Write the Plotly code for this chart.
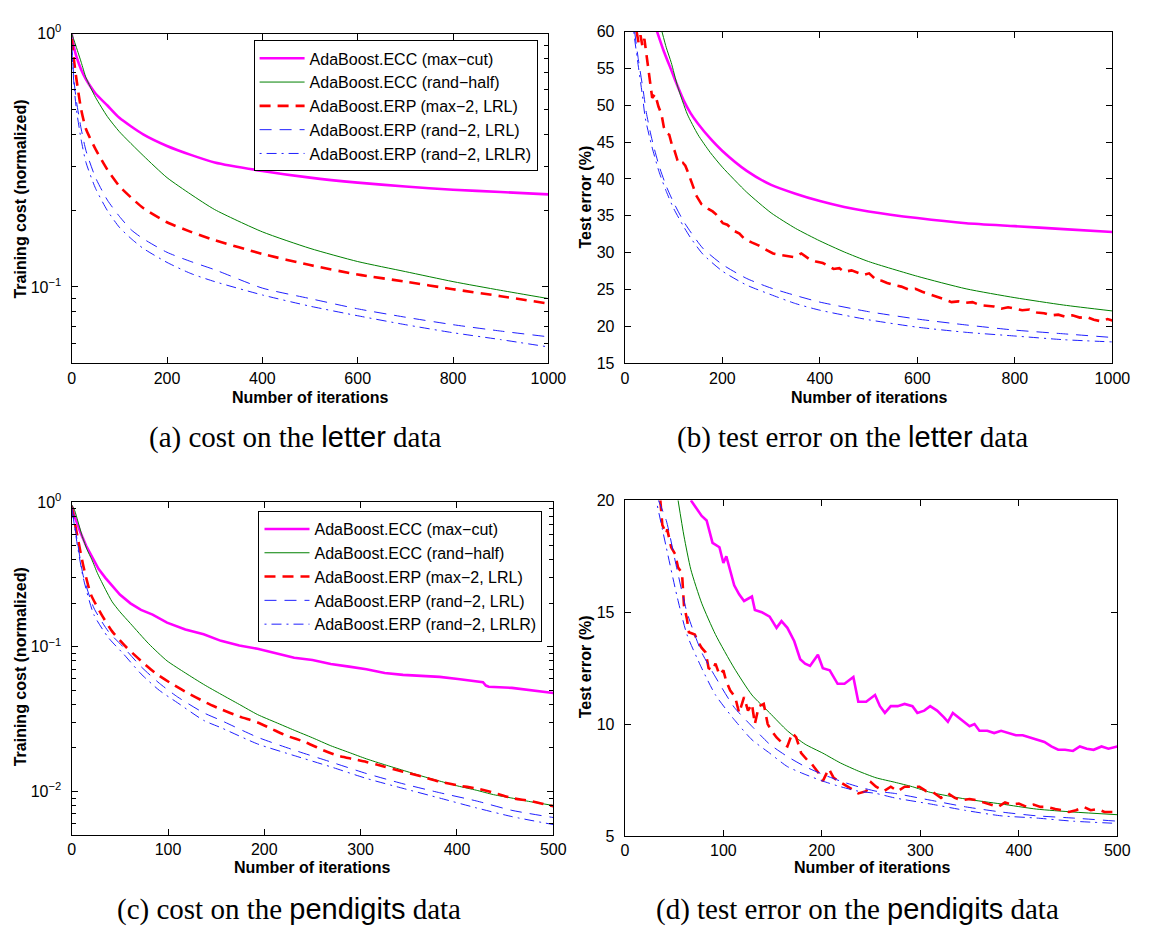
"""
AdaBoost.ECC vs AdaBoost.ERP: training cost and test error on letter / pendigits
"""
import plotly.graph_objects as go

# ---- (a) training cost, letter ----
a_maxcut_x = [0, 5, 10, 20, 30, 50, 75, 100, 150, 200, 250, 300, 400, 500, 600, 700, 800, 900, 1000]
a_maxcut_y = [1.0, 0.88, 0.81, 0.72, 0.66, 0.58, 0.52, 0.465, 0.40, 0.36, 0.332, 0.31, 0.287, 0.27,
              0.258, 0.249, 0.242, 0.237, 0.232]
a_randhalf_x = [0, 10, 20, 30, 50, 75, 100, 150, 200, 250, 300, 400, 500, 600, 700, 800, 900, 1000]
a_randhalf_y = [1.0, 0.88, 0.77, 0.67, 0.56, 0.47, 0.41, 0.33, 0.27, 0.232, 0.202, 0.165, 0.142, 0.126,
                0.115, 0.105, 0.097, 0.090]
a_erp_x = [0, 5, 10, 20, 30, 50, 75, 100, 125, 150, 200, 250, 300, 400, 500, 600, 700, 800, 900, 1000]
a_max2_y = [0.95, 0.78, 0.66, 0.5, 0.42, 0.35, 0.29, 0.25, 0.225, 0.205, 0.18, 0.165, 0.153, 0.135,
            0.122, 0.112, 0.105, 0.098, 0.092, 0.086]
a_rand2_y = [0.92, 0.65, 0.54, 0.42, 0.345, 0.27, 0.22, 0.19, 0.168, 0.155, 0.137, 0.126, 0.117, 0.099,
             0.09, 0.082, 0.076, 0.071, 0.067, 0.0636]
a_lrlr_y = [0.9, 0.62, 0.5, 0.38, 0.31, 0.245, 0.2, 0.172, 0.155, 0.142, 0.125, 0.113, 0.105, 0.093,
            0.084, 0.077, 0.071, 0.066, 0.062, 0.058]

# ---- (b) test error, letter ----
b_maxcut_x = [66, 80, 95, 108, 121, 135, 150, 175, 200, 250, 300, 350, 400, 450, 500, 600, 700, 800, 900, 1000]
b_maxcut_y = [60, 57.3, 54.8, 52.6, 50.6, 48.9, 47.5, 45.5, 43.8, 41.1, 39.2, 38.0, 37.0, 36.2, 35.6,
              34.7, 34.0, 33.6, 33.2, 32.8]
b_randhalf_x = [76, 85, 95, 108, 128, 150, 175, 200, 250, 300, 350, 400, 450, 500, 600, 700, 800, 900, 1000]
b_randhalf_y = [60, 57.8, 55.8, 52.6, 48.8, 46.0, 43.6, 41.6, 38.2, 35.4, 33.3, 31.6, 30.1, 28.8, 26.8,
                25.1, 23.9, 22.9, 22.1]
b_max2_x = [24, 28, 32, 36, 40, 44, 48, 52, 56, 62, 69, 75, 80, 86, 91, 97, 102, 108, 113, 119, 124, 130,
            135, 141, 146, 152, 157, 165, 172, 180, 187, 195, 201, 210, 223, 235, 245, 260, 274, 290, 304,
            318, 333, 348, 362, 377, 392, 406, 418, 428, 440, 450, 465, 479, 490, 501, 510, 516, 527, 538,
            553, 567, 582, 596, 610, 625, 640, 655, 670, 684, 700, 713, 728, 743, 757, 772, 786, 801, 815,
            830, 845, 860, 874, 889, 904, 918, 933, 947, 962, 977, 990, 1000]
b_max2_y = [60, 58.5, 59.5, 58.0, 59.0, 57.0, 54.5, 52.5, 51.0, 51.5, 49.8, 48.8, 47.0, 46.2, 46.0, 44.5,
            43.8, 42.5, 42.0, 42.2, 41.8, 40.8, 40.0, 38.8, 37.8, 37.2, 36.6, 36.3, 35.9, 35.6, 35.2, 34.5,
            34.0, 33.8, 33.0, 32.6, 31.9, 31.4, 31.0, 30.4, 29.9, 29.7, 29.5, 29.4, 29.9, 29.2, 28.8, 28.6,
            28.2, 27.8, 27.9, 27.4, 27.6, 27.3, 27.0, 27.2, 26.6, 26.3, 26.2, 25.9, 25.6, 25.4, 25.0, 25.1,
            24.7, 24.4, 24.0, 23.7, 23.3, 23.4, 23.2, 23.3, 22.9, 22.8, 22.7, 22.4, 22.6, 22.4, 22.2, 22.3,
            21.9, 21.8, 21.5, 21.6, 21.3, 21.5, 21.2, 21.3, 20.9, 20.7, 21.0, 20.8]
b_rand2_x = [20, 27, 38, 44, 55, 70, 85, 100, 120, 135, 160, 200, 250, 300, 350, 400, 500, 600, 700, 800, 900, 1000]
b_rand2_y = [60, 56.5, 51.8, 49.0, 45.5, 41.8, 39.0, 36.8, 34.3, 32.8, 30.6, 28.4, 26.5, 25.2, 24.2, 23.3,
             22.0, 21.0, 20.2, 19.5, 19.0, 18.5]
b_lrlr_x = [18, 25, 36, 42, 55, 70, 85, 100, 120, 135, 160, 200, 250, 300, 350, 400, 500, 600, 700, 800, 900, 1000]
b_lrlr_y = [60, 56.5, 51.3, 48.2, 44.5, 41.0, 38.3, 36.0, 33.6, 32.0, 29.8, 27.5, 25.6, 24.3, 23.1, 22.2,
            20.9, 19.9, 19.2, 18.7, 18.2, 17.9]

# ---- (c) training cost, pendigits ----
c_maxcut_x = [0, 3, 9, 15, 21, 28, 35, 42, 50, 61, 72, 84, 99, 118, 137, 155, 174, 193, 212, 231, 250, 269,
              288, 306, 325, 344, 363, 382, 401, 416, 427, 430, 433, 457, 476, 500]
c_maxcut_y = [0.95, 0.8, 0.62, 0.5, 0.42, 0.345, 0.3, 0.265, 0.23, 0.20, 0.18, 0.167, 0.147, 0.132, 0.122,
              0.110, 0.102, 0.097, 0.090, 0.084, 0.081, 0.076, 0.073, 0.070, 0.066, 0.064, 0.063, 0.062,
              0.060, 0.058, 0.057, 0.054, 0.053, 0.052, 0.050, 0.048]
c_randhalf_x = [0, 3, 11, 16, 21, 27, 35, 42, 50, 61, 80, 99, 118, 137, 155, 174, 193, 212, 231, 250, 269,
                288, 306, 325, 344, 363, 382, 401, 420, 438, 457, 476, 500]
c_randhalf_y = [0.96, 0.88, 0.58, 0.47, 0.40, 0.32, 0.25, 0.205, 0.175, 0.145, 0.105, 0.08, 0.066, 0.055,
                0.047, 0.040, 0.034, 0.030, 0.0265, 0.0235, 0.0207, 0.0186, 0.0168, 0.0153, 0.014, 0.0128,
                0.0118, 0.0109, 0.0102, 0.0095, 0.009, 0.0085, 0.008]
c_max2_x = [0, 6, 12, 20, 31, 42, 57, 72, 88, 103, 118, 140, 155, 174, 193, 208, 223, 242, 261, 276, 291,
            306, 325, 344, 363, 382, 401, 420, 438, 457, 476, 500]
c_max2_y = [0.93, 0.58, 0.365, 0.23, 0.167, 0.128, 0.099, 0.080, 0.065, 0.056, 0.049, 0.041, 0.037, 0.033,
            0.030, 0.027, 0.0243, 0.022, 0.0193, 0.0177, 0.0168, 0.016, 0.0148, 0.0137, 0.0127, 0.0117,
            0.011, 0.0105, 0.0098, 0.009, 0.0086, 0.0079]
c_rand2_x = [0, 6, 12, 23, 38, 54, 72, 91, 110, 137, 155, 193, 231, 269, 306, 344, 382, 420, 457, 500]
c_rand2_y = [0.93, 0.53, 0.31, 0.186, 0.128, 0.099, 0.073, 0.056, 0.045, 0.035, 0.031, 0.0237, 0.0193,
             0.016, 0.0133, 0.0113, 0.0098, 0.0086, 0.0074, 0.0066]
c_lrlr_y = [0.93, 0.5, 0.3, 0.167, 0.116, 0.089, 0.065, 0.050, 0.041, 0.031, 0.0276, 0.0213, 0.0177,
            0.0148, 0.0123, 0.0105, 0.009, 0.0077, 0.0067, 0.0059]

# ---- (d) test error, pendigits ----
d_maxcut_x = [67, 72, 78, 83, 89, 96, 100, 103, 107, 111, 116, 121, 129, 132, 139, 147, 154, 159, 165, 172,
              178, 183, 188, 196, 201, 208, 216, 223, 232, 237, 245, 254, 259, 264, 270, 277, 284, 292, 297,
              304, 310, 317, 324, 328, 333, 342, 350, 355, 360, 368, 375, 382, 389, 397, 404, 411, 418, 426,
              433, 440, 447, 455, 462, 469, 476, 484, 491, 500]
d_maxcut_y = [20, 19.7, 19.3, 19.1, 18.1, 17.9, 17.2, 17.5, 16.9, 16.2, 15.8, 15.5, 15.7, 15.1, 15.0, 14.8,
              14.3, 14.6, 14.3, 13.7, 12.9, 12.7, 12.6, 13.1, 12.5, 12.4, 11.8, 11.8, 12.1, 11.0, 11.0, 11.3,
              10.8, 10.5, 10.8, 10.8, 10.9, 10.8, 10.5, 10.6, 10.8, 10.6, 10.3, 10.1, 10.5, 10.2, 9.9, 10.0,
              9.7, 9.7, 9.6, 9.7, 9.6, 9.5, 9.5, 9.4, 9.3, 9.2, 9.0, 8.85, 8.85, 8.8, 9.0, 8.9, 8.85, 9.0,
              8.9, 9.0]
d_randhalf_x = [54, 60, 67, 78, 92, 111, 129, 147, 165, 183, 201, 219, 237, 255, 274, 292, 310, 346, 382,
                418, 455, 500]
d_randhalf_y = [20, 18.4, 16.9, 15.4, 14.0, 12.5, 11.3, 10.5, 9.7, 9.1, 8.7, 8.26, 7.9, 7.6, 7.4, 7.2,
                6.95, 6.65, 6.43, 6.2, 6.07, 5.95]
d_max2_x = [36, 38, 42, 43, 47, 51, 54, 58, 60, 63, 65, 71, 74, 78, 82, 85, 89, 92, 96, 100, 103, 107, 112,
            116, 121, 125, 129, 132, 136, 141, 145, 149, 154, 161, 165, 170, 174, 179, 185, 190, 197, 201,
            207, 212, 217, 223, 230, 237, 245, 250, 255, 263, 270, 277, 284, 292, 299, 306, 313, 321, 328,
            335, 342, 350, 357, 364, 371, 379, 386, 393, 400, 408, 415, 422, 429, 437, 444, 451, 458, 466,
            473, 480, 487, 495, 500]
d_max2_y = [20, 18.9, 18.5, 18.7, 17.9, 17.6, 17.0, 16.75, 15.3, 14.7, 14.1, 14.0, 13.7, 13.4, 13.2, 12.5,
            12.4, 12.7, 12.2, 12.4, 11.9, 11.5, 11.2, 10.5, 11.2, 10.6, 10.9, 10.0, 10.8, 10.9, 10.0, 9.7,
            9.4, 9.1, 9.0, 9.6, 9.4, 8.7, 8.4, 8.2, 7.8, 7.45, 8.0, 7.6, 7.45, 7.3, 7.1, 6.9, 7.0, 7.4, 7.2,
            7.0, 7.2, 7.0, 7.2, 7.2, 7.2, 7.0, 6.95, 6.7, 6.9, 6.7, 6.6, 6.65, 6.6, 6.5, 6.4, 6.3, 6.5, 6.4,
            6.45, 6.3, 6.4, 6.3, 6.3, 6.2, 6.15, 6.07, 6.15, 6.3, 6.15, 6.2, 6.07, 6.07, 6.07]
d_rand2_x = [34, 42, 53, 63, 78, 92, 111, 129, 147, 165, 183, 201, 219, 237, 255, 274, 310, 346, 382, 418, 455, 500]
d_rand2_y = [20, 19.1, 16.9, 15.0, 13.2, 12.1, 10.75, 9.9, 9.1, 8.55, 8.1, 7.75, 7.45, 7.2, 7.0, 6.9, 6.6,
             6.3, 6.07, 5.9, 5.8, 5.66]
d_lrlr_x = [33, 42, 53, 63, 78, 92, 111, 129, 147, 165, 183, 201, 219, 237, 255, 274, 310, 346, 382, 418, 455, 500]
d_lrlr_y = [19.75, 17.9, 15.7, 14.0, 12.5, 11.3, 10.2, 9.3, 8.7, 8.1, 7.75, 7.45, 7.2, 7.0, 6.9, 6.7, 6.43,
            6.14, 5.9, 5.8, 5.66, 5.56]

names = ["AdaBoost.ECC (max\u2212cut)", "AdaBoost.ECC (rand\u2212half)", "AdaBoost.ERP (max\u22122, LRL)",
         "AdaBoost.ERP (rand\u22122, LRL)", "AdaBoost.ERP (rand\u22122, LRLR)"]

SANS = "Liberation Sans"
W, H = 1150, 934

# matlab-ish line styles, one per method
styles = [
    dict(color="#ff00ff", width=2.6, dash="solid"),
    dict(color="#008000", width=1.0, dash="solid"),
    dict(color="#ff0000", width=2.6, dash="11px,7px"),
    dict(color="#1f1fff", width=1.0, dash="12px,8px"),
    dict(color="#1f1fff", width=1.0, dash="2px,5px,10px,5px"),
]

panels = [
    # axis suffix, series, legend name, noisy series idx
    ("", [(a_maxcut_x, a_maxcut_y), (a_randhalf_x, a_randhalf_y), (a_erp_x, a_max2_y),
          (a_erp_x, a_rand2_y), (a_erp_x, a_lrlr_y)], "legend", []),
    ("2", [(b_maxcut_x, b_maxcut_y), (b_randhalf_x, b_randhalf_y), (b_max2_x, b_max2_y),
           (b_rand2_x, b_rand2_y), (b_lrlr_x, b_lrlr_y)], None, [2]),
    ("3", [(c_maxcut_x, c_maxcut_y), (c_randhalf_x, c_randhalf_y), (c_max2_x, c_max2_y),
           (c_rand2_x, c_rand2_y), (c_rand2_x, c_lrlr_y)], "legend2", [0]),
    ("4", [(d_maxcut_x, d_maxcut_y), (d_randhalf_x, d_randhalf_y), (d_max2_x, d_max2_y),
           (d_rand2_x, d_rand2_y), (d_lrlr_x, d_lrlr_y)], None, [0, 2]),
]

fig = go.Figure()
for suffix, series, leg, noisy in panels:
    for i, (xs, ys) in enumerate(series):
        fig.add_trace(go.Scatter(
            x=xs, y=ys, mode="lines", name=names[i],
            line=dict(**styles[i], shape="linear" if i in noisy else "spline", smoothing=0.6),
            xaxis="x" + suffix, yaxis="y" + suffix,
            showlegend=leg is not None, legend=leg or "legend",
        ))


def px_dom(a, b, total):
    return [a / total, b / total]


def ydom(top, bottom):
    return [1 - bottom / H, 1 - top / H]


common = dict(showline=True, linecolor="black", linewidth=1.4, mirror="allticks", ticks="inside",
              ticklen=6, tickcolor="black", tickwidth=1, showgrid=False, zeroline=False,
              tickfont=dict(family=SANS, size=16, color="black"))
ycommon = dict(common, ticklabelstandoff=6)

minor_a = [0.06, 0.07, 0.08, 0.09, 0.2, 0.3, 0.4, 0.5, 0.6, 0.7, 0.8, 0.9]
minor_c = [0.006, 0.007, 0.008, 0.009, 0.02, 0.03, 0.04, 0.05, 0.06, 0.07, 0.08, 0.09,
           0.2, 0.3, 0.4, 0.5, 0.6, 0.7, 0.8, 0.9]

legend_style = dict(xanchor="right", yanchor="top", bgcolor="white", bordercolor="black", borderwidth=1,
                    font=dict(family=SANS, size=16, color="black"), tracegroupgap=0, itemwidth=45)

fig.update_layout(
    width=W, height=H, margin=dict(l=0, r=0, t=0, b=0),
    paper_bgcolor="white", plot_bgcolor="white",
    xaxis=dict(domain=px_dom(69, 555, W), range=[0, 1000], tickvals=[0, 200, 400, 600, 800, 1000],
               anchor="y", **common),
    yaxis=dict(domain=ydom(23, 360), type="log", range=[-1.30103, 0], tickvals=[1, 0.1],
               ticktext=["10<sup>0</sup>", "10<sup>\u22121</sup>"], anchor="x",
               minor=dict(tickmode="array", tickvals=minor_a, ticks="inside", ticklen=4, tickcolor="black"),
               **ycommon),
    xaxis2=dict(domain=px_dom(633, 1130, W), range=[0, 1000], tickvals=[0, 200, 400, 600, 800, 1000],
                anchor="y2", **common),
    yaxis2=dict(domain=ydom(21, 360), range=[15, 60], tickvals=list(range(15, 61, 5)), anchor="x2", **ycommon),
    xaxis3=dict(domain=px_dom(69, 560, W), range=[0, 500], tickvals=[0, 100, 200, 300, 400, 500],
                anchor="y3", **common),
    yaxis3=dict(domain=ydom(502, 842), type="log", range=[-2.30103, 0], tickvals=[1, 0.1, 0.01],
                ticktext=["10<sup>0</sup>", "10<sup>\u22121</sup>", "10<sup>\u22122</sup>"], anchor="x3",
                minor=dict(tickmode="array", tickvals=minor_c, ticks="inside", ticklen=4, tickcolor="black"),
                **ycommon),
    xaxis4=dict(domain=px_dom(633, 1135, W), range=[0, 500], tickvals=[0, 100, 200, 300, 400, 500],
                anchor="y4", **common),
    yaxis4=dict(domain=ydom(500, 843), range=[5, 20], tickvals=[5, 10, 15, 20], anchor="x4", **ycommon),
    legend=dict(x=544 / W, y=1 - 30 / H, **legend_style),
    legend2=dict(x=549 / W, y=1 - 511 / H, **legend_style),
)

# axis titles and sub-captions
title_font = dict(family=SANS, size=16, color="black")
labels = [
    ("Training cost (normalized)", 17, 192, -90),
    ("Number of iterations", 312, 395, 0),
    ("Test error (%)", 593, 190, -90),
    ("Number of iterations", 882, 395, 0),
    ("Training cost (normalized)", 17, 670, -90),
    ("Number of iterations", 315, 875, 0),
    ("Test error (%)", 593, 670, -90),
    ("Number of iterations", 885, 875, 0),
]
for text, x, y, ang in labels:
    fig.add_annotation(text="<b>%s</b>" % text, xref="paper", yref="paper", x=x / W, y=1 - y / H,
                       xanchor="center", yanchor="middle", textangle=ang, showarrow=False, font=title_font)

sans_span = '<span style="font-family:Liberation Sans">%s</span>'
captions = [
    ("(a) cost on the %s data" % (sans_span % "letter"), 297, 436),
    ("(b) test error on the %s data" % (sans_span % "letter"), 865, 436),
    ("(c) cost on the %s data" % (sans_span % "pendigits"), 291, 918),
    ("(d) test error on the %s data" % (sans_span % "pendigits"), 870, 918),
]
for text, x, y in captions:
    fig.add_annotation(text=text, xref="paper", yref="paper", x=x / W, y=1 - y / H, xanchor="center",
                       yanchor="middle", showarrow=False,
                       font=dict(family="Liberation Serif", size=29, color="black"))

# the default page body has an 8px margin; drop it so the figure fills the window exactly
fig.write_html("out.html", config={"displayModeBar": False},
               post_script="document.body.style.margin='0';")
